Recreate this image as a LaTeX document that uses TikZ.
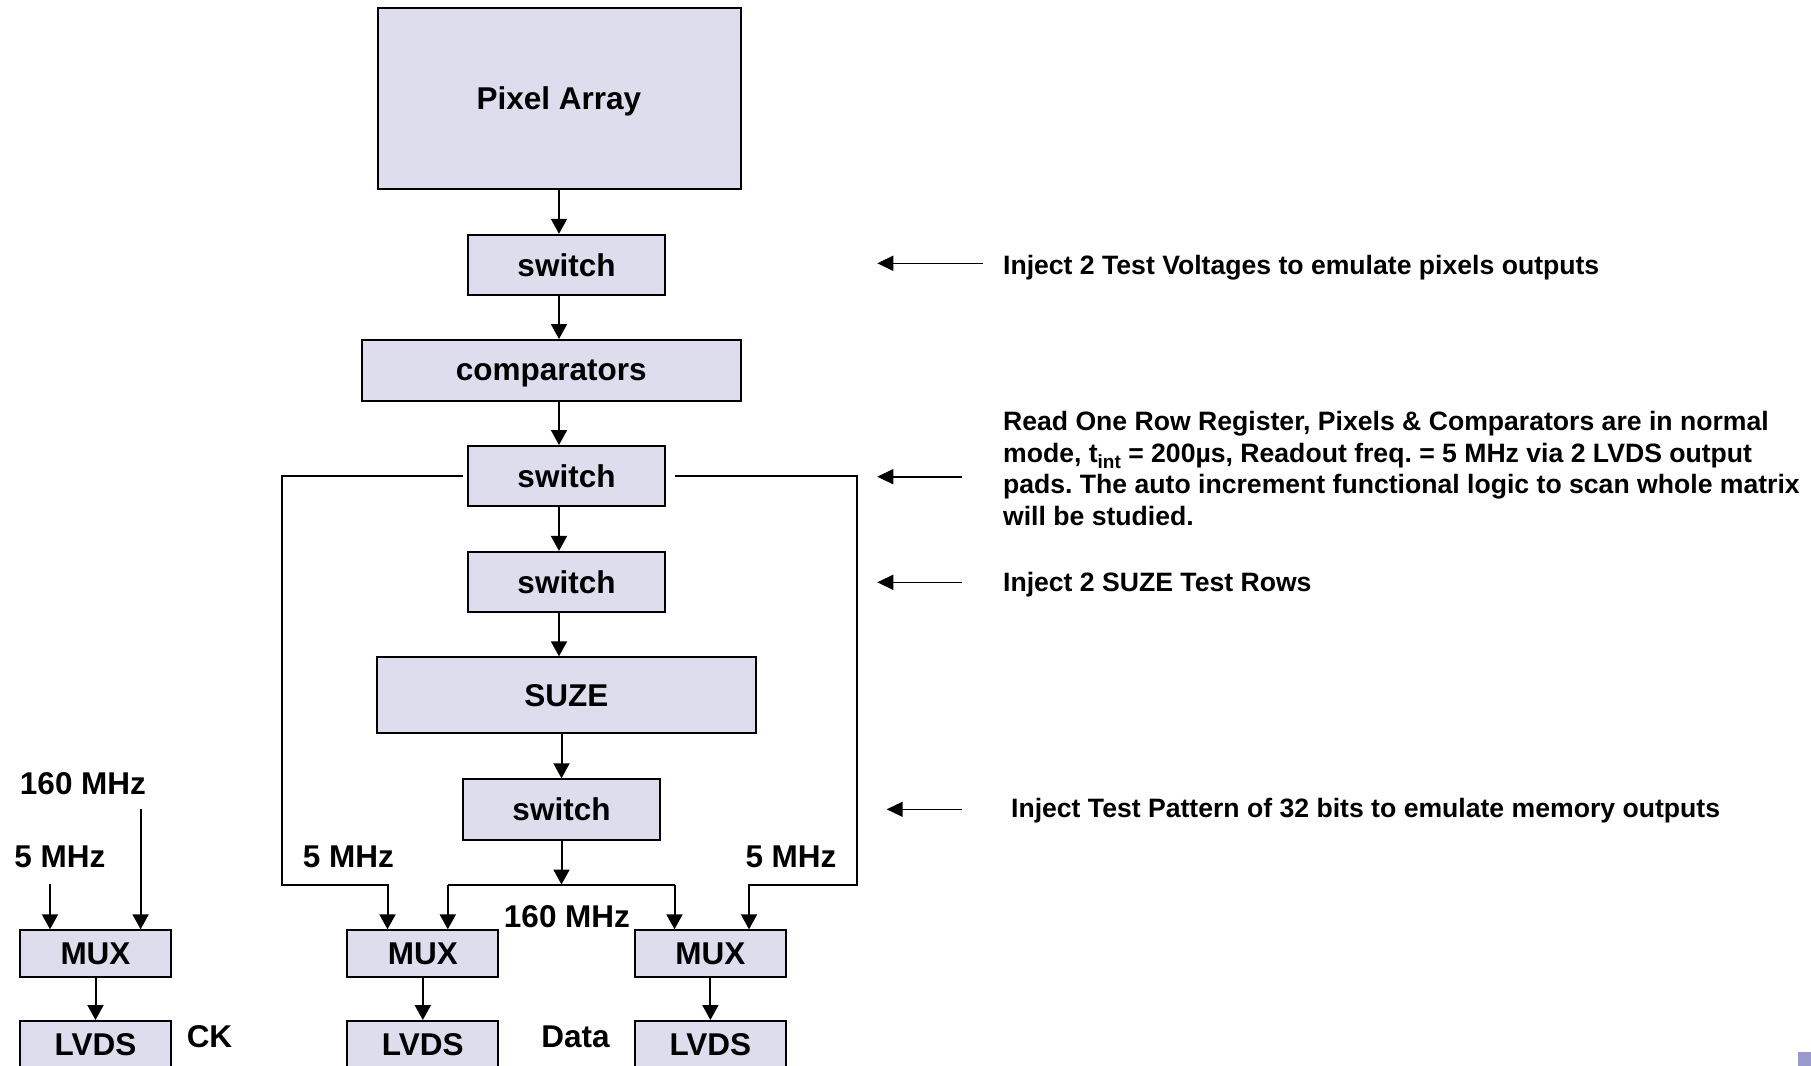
\documentclass[tikz,border=0pt]{standalone}
\usepackage{fontspec}
\setmainfont{Liberation Sans}
\usetikzlibrary{arrows.meta}
\definecolor{boxfill}{RGB}{221,221,238}
\definecolor{cornersq}{RGB}{153,153,204}
\frenchspacing
\begin{document}
\begin{tikzpicture}[x=0.5pt,y=-0.5pt,
  box/.style={draw=black, line width=1pt, fill=boxfill, inner sep=0pt, text depth=0pt, font=\bfseries\fontsize{15.75}{18}\selectfont},
  lbl/.style={inner sep=0pt, font=\bfseries\fontsize{15.75}{18}\selectfont},
  note/.style={inner sep=0pt, anchor=west, align=left, font=\bfseries\fontsize{13.3}{15.85}\selectfont},
  arr/.style={line width=1pt, -{Triangle[length=7.5pt,width=8pt]}},
  wire/.style={line width=1pt},
  narr/.style={line width=0.8pt, -{Triangle[length=8pt,width=7.5pt]}}]
\useasboundingbox (0,0) rectangle (1811,1066);

% main chain
\node[box, minimum width=181.5pt, minimum height=90.5pt] (pix) at (559,98.5) {Pixel Array};
\node[box, minimum width=98.5pt, minimum height=30.2pt] (sw1) at (566.5,265) {switch};
\node[box, minimum width=189.3pt, minimum height=30.3pt] (comp) at (551.2,370.3) {comparators};
\node[box, minimum width=98.5pt, minimum height=30.2pt] (sw2) at (566.5,476.2) {switch};
\node[box, minimum width=98.5pt, minimum height=30.2pt] (sw3) at (566.5,582.1) {switch};
\node[box, minimum width=189.3pt, minimum height=38pt] (suze) at (566.3,695.3) {SUZE};
\node[box, minimum width=98.5pt, minimum height=30.1pt] (sw4) at (561.5,809.4) {switch};

% mux / lvds
\node[box, minimum width=75.5pt, minimum height=23.2pt] (muxL) at (95.5,953.5) {MUX};
\node[box, minimum width=75.5pt, minimum height=23.2pt] (muxM) at (422.8,953.5) {MUX};
\node[box, minimum width=75.5pt, minimum height=23.2pt] (muxR) at (710.4,953.5) {MUX};
\node[box, minimum width=75.5pt, minimum height=23.5pt] (lvL) at (95.5,1044.5) {LVDS};
\node[box, minimum width=75.5pt, minimum height=23.5pt] (lvM) at (422.8,1044.5) {LVDS};
\node[box, minimum width=75.5pt, minimum height=23.5pt] (lvR) at (710.4,1044.5) {LVDS};

% chain arrows
\coordinate (spine) at (559,0);
\draw[arr] (pix.south -| spine) -- (sw1.north -| spine);
\draw[arr] (sw1.south -| spine) -- (comp.north -| spine);
\draw[arr] (comp.south -| spine) -- (sw2.north -| spine);
\draw[arr] (sw2.south -| spine) -- (sw3.north -| spine);
\draw[arr] (sw3.south -| spine) -- (suze.north -| spine);
\draw[arr] (suze.south -| sw4.north) -- (sw4.north);

\coordinate (j) at (561.5,884.5);
\coordinate (jl) at (447.8,884.5);
\coordinate (jr) at (674.5,884.5);
\draw[arr] (sw4.south) -- (j);
\draw[wire] (jl) -- (jr);
\draw[arr] (jl) -- (jl |- muxM.north);
\draw[arr] (jr) -- (jr |- muxR.north);

% side loops
\coordinate (ll1) at (462.5,476.2);
\coordinate (lc) at (281.5,884.5);
\coordinate (lm) at (387.5,884.5);
\draw[arr] (ll1) -| (lc) -- (lm) -- (lm |- muxM.north);
\coordinate (rl1) at (674.5,476.2);
\coordinate (rc) at (856.6,884.5);
\coordinate (rm) at (749,884.5);
\draw[arr] (rl1) -| (rc) -- (rm) -- (rm |- muxR.north);

% left mux inputs
\coordinate (in5) at (50,884.3);
\coordinate (in160) at (140.6,809.3);
\draw[arr] (in5) -- (in5 |- muxL.north);
\draw[arr] (in160) -- (in160 |- muxL.north);

% mux -> lvds
\draw[arr] (muxL.south) -- (lvL.north);
\draw[arr] (muxM.south) -- (lvM.north);
\draw[arr] (muxR.south) -- (lvR.north);

% labels
\node[lbl] (l160a) at (83,783.3) {160 MHz};
\node[lbl] (l5a) at (60,856.7) {5 MHz};
\node[lbl] (l5b) at (348.5,856.7) {5 MHz};
\node[lbl] (l5c) at (791,856.7) {5 MHz};
\node[lbl] (l160b) at (567,916.7) {160 MHz};
\node[lbl] (lck) at (209.5,1037) {CK};
\node[lbl] (ldata) at (575.5,1036.7) {Data};

% annotations
\node[note] (n1) at (1002.7,267.7) {Inject 2 Test Voltages to emulate pixels outputs};
\node[note] (n2) at (1002.7,468.5) {Read One Row Register, Pixels \& Comparators are in normal\\mode, t\raisebox{-0.45ex}{\fontsize{9.5}{10}\selectfont int} = 200µs, Readout freq. = 5 MHz via 2 LVDS output\\pads. The auto increment functional logic to scan whole matrix\\will be studied.};
\node[note] (n3) at (1002.7,585) {Inject 2 SUZE Test Rows};
\node[note] (n4) at (1010.7,810.7) {Inject Test Pattern of 32 bits to emulate memory outputs};

\coordinate (a1s) at (982.7,263.3); \coordinate (a1e) at (877.3,263.3);
\coordinate (a2s) at (962.3,476.7); \coordinate (a2e) at (877.3,476.7);
\coordinate (a3s) at (962.3,582.3); \coordinate (a3e) at (877.3,582.3);
\coordinate (a4s) at (962.3,809.3); \coordinate (a4e) at (886.7,809.3);
\draw[narr] (a1s) -- (a1e);
\draw[narr] (a2s) -- (a2e);
\draw[narr] (a3s) -- (a3e);
\draw[narr] (a4s) -- (a4e);

\fill[cornersq] (1797.7,1052) rectangle (1811,1066);
\end{tikzpicture}
\end{document}
